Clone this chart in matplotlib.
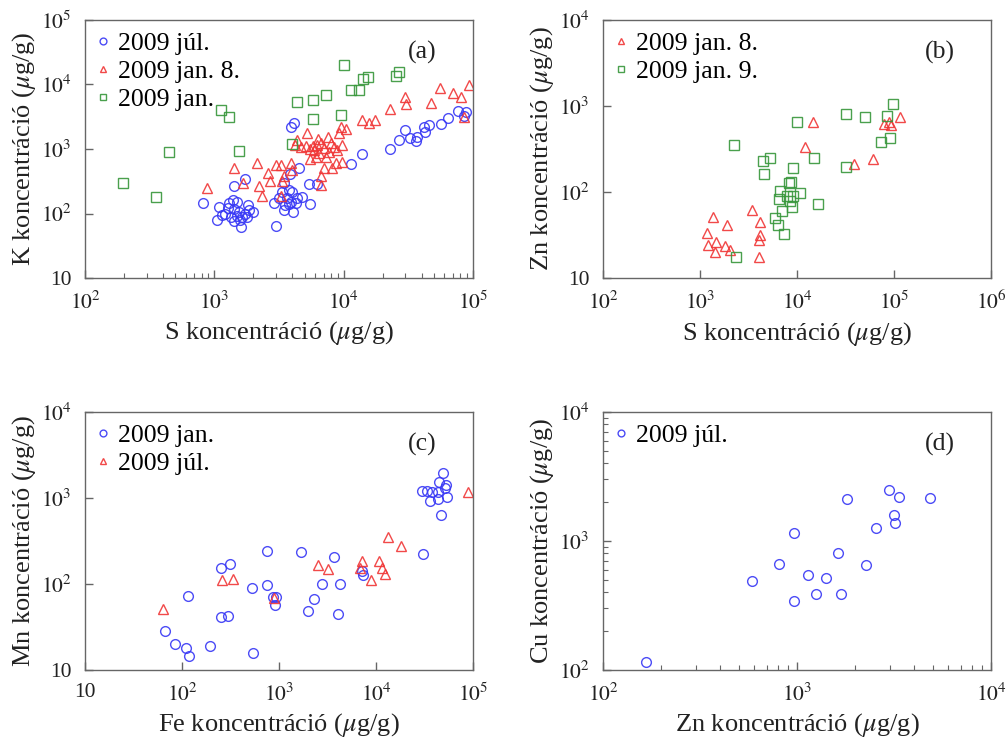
import matplotlib
matplotlib.use('Agg')
import matplotlib.pyplot as plt
from matplotlib.ticker import LogLocator, FuncFormatter, NullLocator, NullFormatter
import numpy as np

# ---- panel (a): K vs S ----
a_jul_S = [811, 1094, 1148, 1049, 1216, 1306, 1386, 1507, 1413, 1355, 1413, 1500, 1563, 1620,
           1640, 1718, 1825, 1845, 1790, 1980, 1430, 1718, 1285, 1593,
           2972, 2884, 3150, 3444, 3350, 3767, 4000, 3660, 3882, 4245, 3767, 3444, 4075, 4786,
           5480, 5380, 6180, 4500, 3837, 3882, 4120, 4330, 3550,
           11480, 13960, 22860, 26850, 29700, 32660, 36140, 36600, 41500, 42480, 45840, 56480,
           64400, 76100, 84700, 87800]
a_jul_K = [144, 125, 95, 79, 98, 144, 162, 149, 119, 89, 76.5, 91, 104, 62,
           89, 97, 135, 113, 89, 104, 267, 343, 122, 79,
           65, 144, 172, 294, 218, 231, 218, 172, 152, 144, 140, 113, 104, 178,
           140, 284, 284, 502, 409, 2167, 2500, 174, 135,
           580, 836, 1012, 1380, 1972, 1496, 1346, 1518, 2167, 1853, 2330, 2440,
           2990, 3930, 3250, 3780]
a_jan8_S = [877, 1413, 1667, 2144, 2222, 2355, 2589, 2685, 2987, 3288, 3365, 3444, 3250, 3882, 4000,
            5240, 4375, 4170, 4645, 5075, 5480, 5885, 5480, 6330, 6640, 7040, 7560, 7930, 8410,
            8935, 9200, 9480, 10370, 9780, 7040, 8160, 8660, 9780, 6720, 6640, 7240, 6070, 6440,
            5750, 7660, 6180,
            13960, 15700, 17380, 22750, 29870, 30260, 47230, 55800, 69700, 80800, 85700, 92700]
a_jan8_K = [246, 502, 301, 600, 267, 189, 430, 319, 558, 558, 319, 381, 189, 600, 472,
            1750, 1380, 1153, 1087, 1125, 1000, 965, 692, 1413, 1225, 1026, 1518, 1225, 1087,
            965, 1750, 2167, 2020, 1153, 502, 502, 614, 635, 381, 277, 760, 760, 857,
            1114, 898, 1153,
            2818, 2560, 2818, 4130, 6470, 4990, 5110, 8920, 7310, 6340, 3170, 9820]
a_jan_S = [1120, 1306, 448, 1553, 195, 351, 4000, 4380, 5780, 5780, 7290, 9530, 10120, 11330,
           13140, 14130, 15360, 25180, 27020]
a_jan_K = [4030, 3170, 908, 931, 297, 178, 1197, 5300, 5750, 2950, 6870, 3400, 19900, 8220,
           8290, 12160, 12950, 13680, 15620]

# ---- panel (b): Zn vs S ----
b_jan8_S = [1170, 1208, 1349, 1459, 1413, 1790, 1905, 2063, 3415, 4125, 4190, 4030, 4030,
            12020, 14750, 38550, 60400, 78900, 88100, 93900, 114300]
b_jan8_Zn = [33.5, 24.1, 51, 26.4, 20, 23.5, 41.9, 20.9, 62.4, 45, 31.5, 27.5, 17.7,
             338, 659, 213, 241, 614, 647, 603, 740]
b_jan9_S = [2249, 2338, 4470, 5310, 4575, 9955, 9200, 14890, 31700, 31700, 50000, 73600, 85500,
            91700, 97700, 6710, 6560, 8190, 8650, 7870, 9200, 10770, 8510, 8920, 7050, 5970,
            6310, 7380, 16370]
b_jan9_Zn = [353, 17.5, 231, 248, 164, 653, 190, 248, 807, 193, 740, 386, 765,
             430, 1054, 103, 83.7, 127, 131, 89, 89, 97, 78, 67, 60.8, 50,
             41.5, 32.1, 72.6]

# ---- panel (c): Mn vs Fe ----
c_jan_Fe = [66.4, 84.7, 110.8, 117, 195, 534, 114, 253, 298, 253, 315, 531, 745, 745, 858, 928,
            899, 1687, 2008, 2298, 2775, 3683, 4210, 4077, 7130, 7410, 30800, 30100, 33900,
            38100, 43900, 36100, 43200, 44600, 49500, 51000, 52300, 53900, 46400]
c_jan_Mn = [28.6, 20, 18, 14.5, 19, 15.7, 72.6, 41.5, 42.6, 155, 172, 90.8, 96.6, 241, 70.2, 70.2,
            57.7, 235, 47.9, 67, 99, 208, 101, 44.2, 140, 127, 226, 1217, 1205,
            1184, 1173, 923, 973, 1532, 1950, 1318, 1402, 1036, 635]
c_jul_Fe = [63.8, 257, 333, 891, 2523, 3192, 7180, 6900, 8890, 10820, 11430, 12370, 13370,
            18300, 87900]
c_jul_Mn = [50.9, 110, 115, 68.2, 168, 148, 186, 155, 111, 185, 155, 131, 353, 278, 1173]

# ---- panel (d): Cu vs Zn ----
d_jul_Zn = [167, 588, 805, 966, 966, 1134, 1257, 1403, 1630, 1682, 1814, 2261, 2545, 2970,
            3162, 3187, 3340, 4840]
d_jul_Cu = [115, 492, 661, 1146, 341, 543, 388, 515, 807, 386, 2109, 657, 1260, 2500,
            1585, 1384, 2208, 2173]

BLUE = '#3838f5'
RED = '#f03535'
GREEN = '#36963a'

plt.rcParams['font.family'] = ['Liberation Serif', 'DejaVu Serif']
plt.rcParams['mathtext.fontset'] = 'stix'


def pow_label(v, pos):
    e = int(round(np.log10(v)))
    if e == 1:
        return '10'
    return r'$10^{%d}$' % e


def style_axis(ax, xlim, ylim, xminor, yminor):
    ax.set_xscale('log')
    ax.set_yscale('log')
    ax.set_xlim(*xlim)
    ax.set_ylim(*ylim)
    for sp in ax.spines.values():
        sp.set_color('#666666')
        sp.set_linewidth(1.0)
    ax.xaxis.set_major_locator(LogLocator(base=10, numticks=10))
    ax.yaxis.set_major_locator(LogLocator(base=10, numticks=10))
    ax.xaxis.set_major_formatter(FuncFormatter(pow_label))
    ax.yaxis.set_major_formatter(FuncFormatter(pow_label))
    if xminor:
        ax.xaxis.set_minor_locator(LogLocator(base=10, subs=np.arange(2, 10), numticks=20))
    else:
        ax.xaxis.set_minor_locator(NullLocator())
    if yminor:
        ax.yaxis.set_minor_locator(LogLocator(base=10, subs=np.arange(2, 10), numticks=20))
    else:
        ax.yaxis.set_minor_locator(NullLocator())
    ax.xaxis.set_minor_formatter(NullFormatter())
    ax.yaxis.set_minor_formatter(NullFormatter())
    ax.tick_params(which='major', direction='in', length=6, width=1, color='#666666',
                   labelsize=15.5, top=False, right=False, pad=9.5, labelcolor='#222222')
    ax.tick_params(which='minor', direction='in', length=3.5, width=0.8, color='#666666',
                   top=False, right=False)


def pts(ax, x, y, marker, color, label, ms=7):
    ax.plot(x, y, linestyle='none', marker=marker, markersize=ms, markerfacecolor='none',
            markeredgecolor=color, markeredgewidth=1.0, alpha=0.9, label=label)


def finish(ax, tag, xlabel, ylabel):
    ax.set_xlabel(xlabel, fontsize=19, color='#222222', labelpad=4)
    ax.set_ylabel(ylabel, fontsize=19, color='#222222', labelpad=2)
    ax.text(0.868, 0.873, tag, transform=ax.transAxes, fontsize=18.5, ha='center',
            va='center', color='#222222')
    ax.legend(loc='upper left', frameon=False, fontsize=18.5, markerscale=0.7,
              handlelength=0.5, handletextpad=0.33, labelspacing=0.21,
              borderaxespad=0.2, borderpad=0.25)


fig = plt.figure(figsize=(10.07, 7.43), dpi=100)
ax_a = fig.add_axes([0.0844, 0.6258, 0.3853, 0.3473])
ax_b = fig.add_axes([0.5988, 0.6258, 0.3853, 0.3473])
ax_c = fig.add_axes([0.0844, 0.0983, 0.3853, 0.3472])
ax_d = fig.add_axes([0.5988, 0.0983, 0.3853, 0.3472])

pts(ax_a, a_jul_S, a_jul_K, 'o', BLUE, '2009 júl.')
pts(ax_a, a_jan8_S, a_jan8_K, '^', RED, '2009 jan. 8.')
pts(ax_a, a_jan_S, a_jan_K, 's', GREEN, '2009 jan.')
style_axis(ax_a, (1e2, 1e5), (10, 1e5), True, False)
finish(ax_a, '(a)', r'S koncentráció ($\mu$g/g)', r'K koncentráció ($\mu$g/g)')

pts(ax_b, b_jan8_S, b_jan8_Zn, '^', RED, '2009 jan. 8.')
pts(ax_b, b_jan9_S, b_jan9_Zn, 's', GREEN, '2009 jan. 9.')
style_axis(ax_b, (1e2, 1e6), (10, 1e4), False, False)
finish(ax_b, '(b)', r'S koncentráció ($\mu$g/g)', r'Zn koncentráció ($\mu$g/g)')

pts(ax_c, c_jan_Fe, c_jan_Mn, 'o', BLUE, '2009 jan.')
pts(ax_c, c_jul_Fe, c_jul_Mn, '^', RED, '2009 júl.')
style_axis(ax_c, (10, 1e5), (10, 1e4), False, False)
finish(ax_c, '(c)', r'Fe koncentráció ($\mu$g/g)', r'Mn koncentráció ($\mu$g/g)')

pts(ax_d, d_jul_Zn, d_jul_Cu, 'o', BLUE, '2009 júl.')
style_axis(ax_d, (1e2, 1e4), (1e2, 1e4), True, True)
finish(ax_d, '(d)', r'Zn koncentráció ($\mu$g/g)', r'Cu koncentráció ($\mu$g/g)')

fig.savefig('out.png', dpi=100)
